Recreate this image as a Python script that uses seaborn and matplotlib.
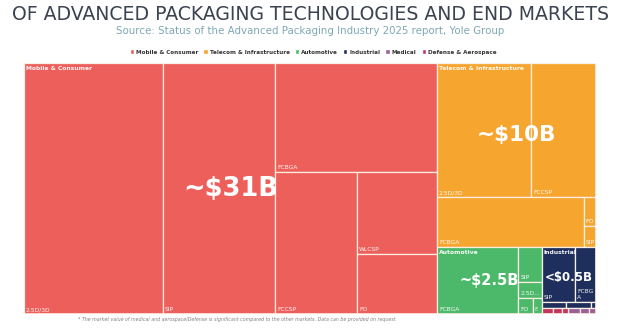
import matplotlib
matplotlib.use("Agg")
import matplotlib.pyplot as plt
from matplotlib.patches import Rectangle
import seaborn as sns

# ---- data -------------------------------------------------------------
markets = ["Mobile & Consumer", "Telecom & Infrastructure", "Automotive",
           "Industrial", "Medical", "Defense & Aerospace"]
market_hex = ["#ec5f5b", "#f6a52f", "#4cb86a", "#1e2f5e", "#9c5f96", "#c4345f"]
market_value_text = ["~$31B", "~$10B", "~$2.5B", "<$0.5B", "", ""]

# package revenue per end market ($B)
mobile_pkg = ["2.5D/3D", "SIP", "FCBGA", "FCCSP", "WLCSP", "FO"]
mobile_val = [10.43, 8.41, 5.28, 3.48, 1.96, 1.44]
telecom_pkg = ["2.5D/3D", "FCCSP", "FCBGA", "FO", "SIP"]
telecom_val = [3.77, 2.60, 2.20, 0.104, 0.075]
auto_pkg = ["FCBGA", "SIP", "2.5D/3D", "FO", "FCCSP"]
auto_val = [1.62, 0.241, 0.110, 0.067, 0.043]
industrial_pkg = ["SIP", "FCBGA", "FCCSP", "FO", "WLCSP"]
industrial_val = [0.549, 0.339, 0.045, 0.045, 0.009]
medical_pkg = ["SIP", "FCBGA", "FO"]
medical_val = [0.022, 0.016, 0.012]
defense_pkg = ["SIP", "FCBGA", "FO"]
defense_val = [0.020, 0.016, 0.012]

# grouping of packages inside each market (nested blocks, sliced alternately)
market_groups = {
    "Mobile & Consumer": ["2.5D/3D", "SIP", ["FCBGA", ["FCCSP", ["WLCSP", "FO"]]]],
    "Telecom & Infrastructure": [["2.5D/3D", "FCCSP"], ["FCBGA", ["FO", "SIP"]]],
    "Automotive": ["FCBGA", ["SIP", "2.5D/3D", ["FO", "FCCSP"]]],
    "Industrial": [["SIP", "FCBGA"], ["FCCSP", "FO", "WLCSP"]],
    "Medical": ["SIP", "FCBGA", "FO"],
    "Defense & Aerospace": ["SIP", "FCBGA", "FO"],
}
top_groups = ["Mobile & Consumer", ["Telecom & Infrastructure",
              ["Automotive", ["Industrial", ["Defense & Aerospace", "Medical"]]]]]

market_pkgs = {
    "Mobile & Consumer": dict(zip(mobile_pkg, mobile_val)),
    "Telecom & Infrastructure": dict(zip(telecom_pkg, telecom_val)),
    "Automotive": dict(zip(auto_pkg, auto_val)),
    "Industrial": dict(zip(industrial_pkg, industrial_val)),
    "Medical": dict(zip(medical_pkg, medical_val)),
    "Defense & Aerospace": dict(zip(defense_pkg, defense_val)),
}
market_totals = {m: sum(v.values()) for m, v in market_pkgs.items()}

# ---- style ------------------------------------------------------------
sns.set_theme(style="white")
plt.rcParams["font.family"] = ["DejaVu Sans"]
palette = dict(zip(markets, sns.color_palette(market_hex)))
value_label_y = {"Mobile & Consumer": 0.5, "Telecom & Infrastructure": 0.39,
                 "Automotive": 0.5, "Industrial": 0.5}
value_label_size = {"Mobile & Consumer": 18.5, "Telecom & Infrastructure": 15.5,
                    "Automotive": 10.5, "Industrial": 8.5}
EDGE = "#fbeee2"

fig = plt.figure(figsize=(6.2, 3.3), dpi=100)
W, H = 572.0, 251.0
ax = fig.add_axes([24 / 620, 16 / 330, W / 620, H / 330])
ax.set_xlim(0, W)
ax.set_ylim(H, 0)
ax.axis("off")
renderer = fig.canvas.get_renderer()


def node_value(node, values):
    if isinstance(node, str):
        return values[node]
    return sum(node_value(c, values) for c in node)


def slice_layout(node, values, x, y, w, h, horizontal, out):
    if isinstance(node, str):
        out[node] = (x, y, w, h)
        return
    total = node_value(node, values)
    for child in node:
        frac = node_value(child, values) / total
        if horizontal:
            cw = w * frac
            slice_layout(child, values, x, y, cw, h, not horizontal, out)
            x += cw
        else:
            ch = h * frac
            slice_layout(child, values, x, y, w, ch, not horizontal, out)
            y += ch


def text_w(s, size, weight="normal"):
    t = fig.text(0, 0, s, fontsize=size, fontweight=weight)
    wpx = t.get_window_extent(renderer=renderer).width
    t.remove()
    return wpx


LBL = 4.3


def fit_label(name, w, h):
    avail = w - 2.5
    if text_w(name, LBL) <= avail:
        return name
    if h >= 18:
        lines, cur = [], ""
        for ch in name:
            if cur and text_w(cur + ch, LBL) > avail:
                lines.append(cur)
                cur = ch
            else:
                cur += ch
        lines.append(cur)
        return "\n".join(lines)
    for k in range(len(name) - 1, 0, -1):
        s = name[:k] + "..."
        if text_w(s, LBL) <= avail:
            return s
    return name[0] + "."


# top level: market rectangles
market_rects = {}
slice_layout(top_groups, market_totals, 0, 0, W, H, True, market_rects)

for m in markets:
    mx, my, mw, mh = market_rects[m]
    cells = {}
    slice_layout(market_groups[m], market_pkgs[m], mx, my, mw, mh, mw >= mh, cells)
    for pkg, (x, y, w, h) in cells.items():
        ax.add_patch(Rectangle((x, y), w, h, facecolor=palette[m],
                               edgecolor=EDGE, linewidth=0.9))
        if h >= 10 and w >= 6:
            ax.text(x + 1.8, y + h - 2, fit_label(pkg, w, h), fontsize=LBL,
                    color="white", ha="left", va="bottom", linespacing=1.2,
                    alpha=0.95)
    if mh >= 10:
        ax.text(mx + 2, my + 2.5, m, fontsize=LBL, fontweight="bold",
                color="white", ha="left", va="top", alpha=0.95)
    if market_value_text[markets.index(m)]:
        ax.text(mx + mw / 2, my + mh * value_label_y[m],
                market_value_text[markets.index(m)],
                fontsize=value_label_size[m], fontweight="bold",
                color="white", ha="center", va="center")

ax.add_patch(Rectangle((0, 0), W, H, fill=False, edgecolor=EDGE, linewidth=1.2))

# ---- titles, legend, footnote ----------------------------------------
fig.text(0.5, 1 - 14 / 330, "OF ADVANCED PACKAGING TECHNOLOGIES AND END MARKETS",
         ha="center", va="center", fontsize=13.6, color="#3b4350")
fig.text(0.5, 1 - 31 / 330,
         "Source: Status of the Advanced Packaging Industry 2025 report, Yole Group",
         ha="center", va="center", fontsize=7.4, color="#7fa8b6")

handles = [Rectangle((0, 0), 1, 1, facecolor=palette[m]) for m in markets]
fig.legend(handles, markets, loc="center", bbox_to_anchor=(0.505, 1 - 52 / 330),
           ncol=6, frameon=False, handlelength=0.75, handleheight=0.75,
           handletextpad=0.35, columnspacing=0.9,
           prop={"size": 4.1, "weight": "bold"}, labelcolor="#333333")

fig.text(78 / 620, 1 - 320 / 330,
         "* The market value of medical and aerospace/Defense is significant compared "
         "to the other markets. Data can be provided on request",
         ha="left", va="center", fontsize=3.4, style="italic", color="#808080")

fig.savefig("out.png", dpi=100, facecolor="white")
